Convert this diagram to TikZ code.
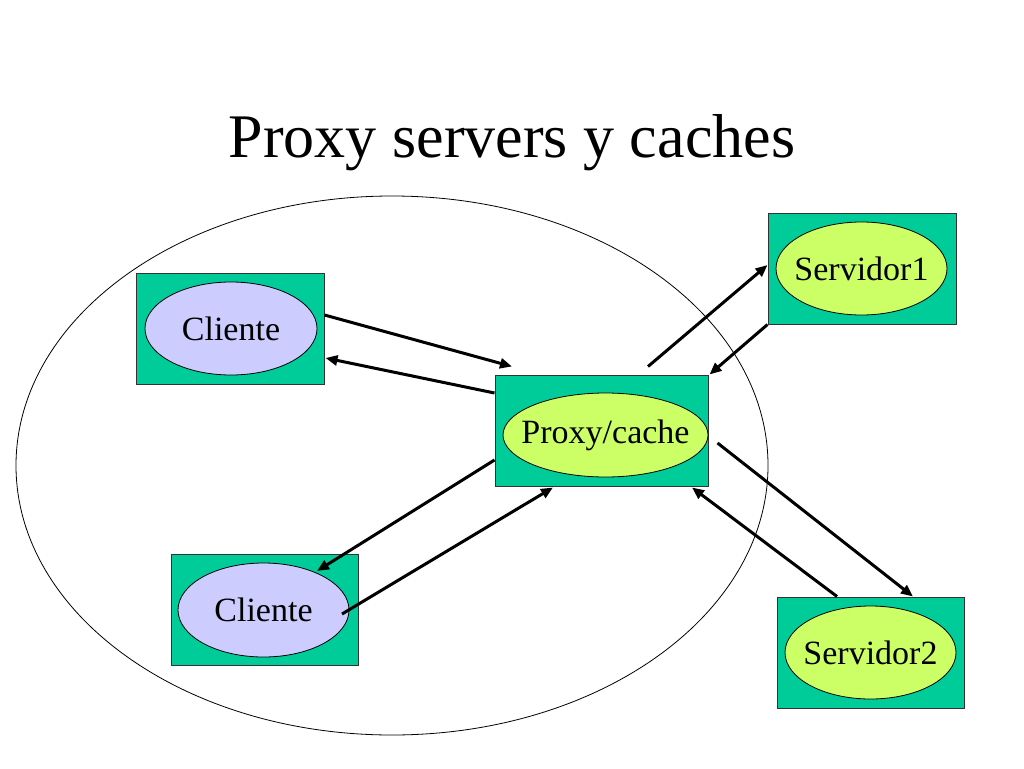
\documentclass[tikz,border=0pt]{standalone}
\usepackage{fontspec}
\setmainfont{Liberation Serif}
\usetikzlibrary{shapes.geometric,arrows.meta,calc}
\definecolor{boxgreen}{RGB}{0,204,153}
\definecolor{lilac}{RGB}{204,204,255}
\definecolor{lime}{RGB}{204,255,102}
\newcommand{\zw}[1]{\makebox[0pt]{#1}}
\tikzset{
  hostbox/.style={rectangle,draw=black!80,line width=1pt,fill=boxgreen,minimum width=188pt,minimum height=111pt,inner sep=0pt},
  cliell/.style={ellipse,draw=black,line width=0.8pt,fill=lilac,minimum width=172pt,minimum height=93pt,inner sep=0pt,font=\fontsize{34}{40}\selectfont},
  srvell/.style={ellipse,draw=black,line width=0.8pt,fill=lime,minimum width=171pt,minimum height=93pt,inner sep=0pt,font=\fontsize{34}{40}\selectfont},
  flow/.style={line width=3pt,-{Triangle[length=12pt,width=10pt]}}
}
\begin{document}
\begin{tikzpicture}[x=1pt,y=-1pt]
\useasboundingbox[fill=white] (0,0) rectangle (1024,768);
% title
\node[anchor=base,font=\fontsize{62}{70}\selectfont,inner sep=0pt] (title) at (512,157) {Proxy servers y caches};
% big ellipse
\draw[line width=0.8pt] (392,465.5) ellipse [x radius=376, y radius=269.5];
% boxes
\node[hostbox] (c1box) at (230,328.5) {};
\node[cliell] (c1) at (231,328.5) {\zw{Cliente}};
\node[hostbox,minimum width=213pt] (pbox) at (601.5,430.5) {};
\node[srvell,minimum width=205pt,minimum height=84pt] (p) at (605.5,435) {\zw{Proxy/cache}};
\node[hostbox] (s1box) at (862,268.5) {};
\node[srvell] (s1) at (861.5,268.5) {\zw{Servidor1}};
\node[hostbox,minimum width=187pt] (c2box) at (264.5,610) {};
\node[cliell,minimum width=171pt,minimum height=94pt] (c2) at (263.5,610) {\zw{Cliente}};
\node[hostbox,minimum width=187pt] (s2box) at (870.5,652.5) {};
\node[srvell] (s2) at (870.5,652.5) {\zw{Servidor2}};
% arrows
\draw[flow] ($(c1box.east)+(0,-13.5)$) -- ($(pbox.north)+(-89.5,-8)$);
\draw[flow] ($(pbox.west)+(0,-37.5)$) -- ($(c1box.east)+(1,29.5)$);
\draw[flow] ($(pbox.north)+(46.5,-8)$) -- ($(s1box.west)+(0,-3.5)$);
\draw[flow] (s1box.south west) -- ($(pbox.north east)+(1,0)$);
\draw[flow] ($(pbox.east)+(9,12.5)$) -- ($(s2box.north)+(42.5,0)$);
\draw[flow] ($(s2box.north)+(-33.5,0)$) -- ($(pbox.south)+(90.5,1)$);
\draw[flow] ($(pbox.west)+(0,29.5)$) -- ($(c2box.center)+(52.5,-39)$);
\draw[flow] ($(c2box.center)+(77.5,4)$) -- ($(pbox.south)+(-48.5,1)$);
\end{tikzpicture}
\end{document}
